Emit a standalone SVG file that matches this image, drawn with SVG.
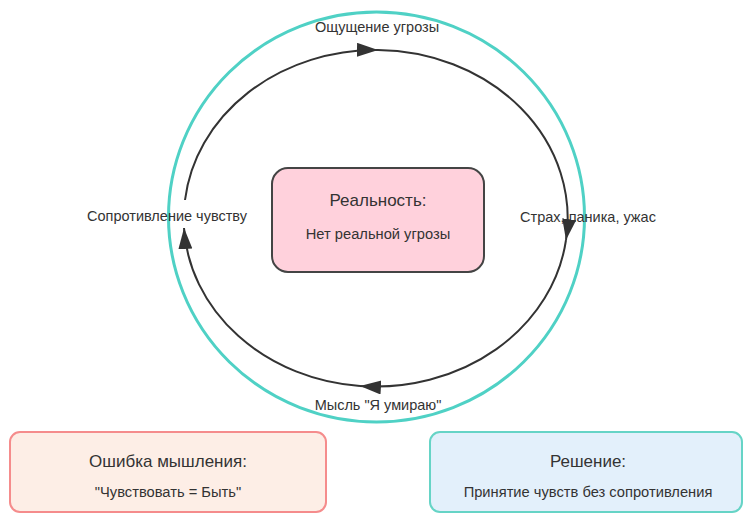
<svg xmlns="http://www.w3.org/2000/svg" width="744" height="514" viewBox="0 0 744 514">
<defs>
<style>
text{font-family:"Liberation Sans",Arial,sans-serif;fill:#333;text-anchor:middle}
.lbl{font-size:14.5px}
.title{font-size:17px}
.sub{font-size:14.7px}
.cyc{fill:none;stroke:#333;stroke-width:2}
</style>
<marker id="arr" markerUnits="userSpaceOnUse" markerWidth="24" markerHeight="16" refX="21" refY="7" orient="auto">
<path d="M0,0 L21,7 L0,14 z" fill="#333"/>
</marker>
</defs>
<rect width="744" height="514" fill="#fff"/>
<g id="outer">
<ellipse cx="376.5" cy="217" rx="208" ry="205" fill="none" stroke="#4fd1c5" stroke-width="3"/>
</g>
<g id="connectors">
<path class="cyc" d="M185,200 A192,168 0 0 1 378,50" marker-end="url(#arr)"/>
<path class="cyc" d="M378,50 A192,168 0 0 1 566,240" marker-end="url(#arr)"/>
<path class="cyc" d="M566,240 A192,168 0 0 1 360,386" marker-end="url(#arr)"/>
<path class="cyc" d="M360,386 A192,168 0 0 1 184,228" marker-end="url(#arr)"/>
</g>
<g id="threat"><text class="lbl" x="377" y="32">Ощущение угрозы</text></g>
<g id="fear"><text class="lbl" x="588" y="222">Страх, паника, ужас</text></g>
<g id="thought"><text class="lbl" x="378" y="410">Мысль "Я умираю"</text></g>
<g id="resist"><text class="lbl" x="167" y="221">Сопротивление чувству</text></g>
<g id="reality">
<rect x="272" y="168" width="212" height="104" rx="16" fill="#ffd1dc" stroke="#444" stroke-width="2"/>
<text class="title" x="378" y="206">Реальность:</text>
<text class="sub" x="378" y="239">Нет реальной угрозы</text>
</g>
<g id="error">
<rect x="10" y="432" width="316" height="80" rx="10" fill="#fdeee6" stroke="#f58c8c" stroke-width="2"/>
<text class="title" x="168" y="467">Ошибка мышления:</text>
<text class="sub" x="168" y="497">"Чувствовать = Быть"</text>
</g>
<g id="solution">
<rect x="430" y="432" width="312" height="80" rx="10" fill="#e3f0fb" stroke="#66d4c6" stroke-width="2"/>
<text class="title" x="588" y="467">Решение:</text>
<text class="sub" x="588" y="497">Принятие чувств без сопротивления</text>
</g>
</svg>
